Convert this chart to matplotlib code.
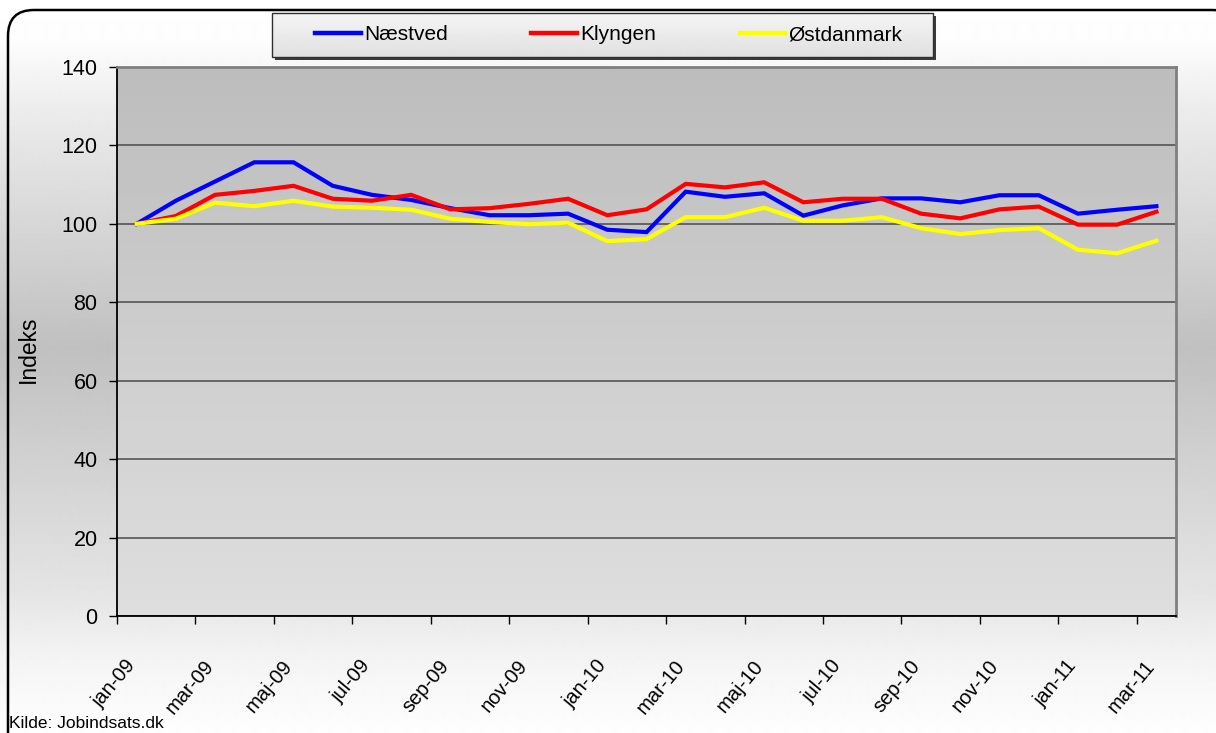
import numpy as np
import matplotlib.pyplot as plt
from matplotlib.patches import FancyBboxPatch, Rectangle
from matplotlib.lines import Line2D
from matplotlib.transforms import ScaledTranslation

# monthly index values, jan-09 = 100
months = ["jan-09", "feb-09", "mar-09", "apr-09", "maj-09", "jun-09", "jul-09",
          "aug-09", "sep-09", "okt-09", "nov-09", "dec-09", "jan-10", "feb-10",
          "mar-10", "apr-10", "maj-10", "jun-10", "jul-10", "aug-10", "sep-10",
          "okt-10", "nov-10", "dec-10", "jan-11", "feb-11", "mar-11"]
naestved = [100, 105.9, 110.8, 115.7, 115.7, 109.7, 107.4, 106.1, 104.0, 102.2,
            102.2, 102.6, 98.5, 97.9, 108.2, 106.9, 107.8, 102.1, 104.7, 106.5,
            106.5, 105.5, 107.3, 107.3, 102.6, 103.6, 104.5]
klyngen = [100, 102.0, 107.4, 108.4, 109.7, 106.4, 105.9, 107.4, 103.7, 104.0,
           105.1, 106.4, 102.2, 103.7, 110.2, 109.3, 110.6, 105.5, 106.4, 106.4,
           102.6, 101.4, 103.7, 104.4, 99.8, 99.8, 103.1]
ostdanmark = [100, 101.3, 105.4, 104.5, 105.9, 104.4, 104.1, 103.6, 101.3, 100.5,
              99.9, 100.3, 95.6, 96.1, 101.7, 101.7, 104.1, 100.8, 100.8, 101.7,
              98.9, 97.4, 98.4, 98.9, 93.4, 92.5, 95.7]
series_names = ["Næstved", "Klyngen", "Østdanmark"]
series_colors = ["#0000ff", "#ff0000", "#ffff00"]
y_ticks = [0, 20, 40, 60, 80, 100, 120, 140]

W, H = 1216, 733
plt.rcParams["font.family"] = ["Liberation Sans", "DejaVu Sans"]

fig = plt.figure(figsize=(W / 100, H / 100), dpi=100)

# background layer in pixel coords
bg = fig.add_axes([0, 0, 1, 1], zorder=-10)
ys = np.arange(H)
shade = np.interp(ys, [0, 40, 110, 347, 590, 660, 733], [255, 253, 236, 192, 228, 244, 254]) / 255
bg.imshow(np.repeat(shade[:, None], 2, axis=1), cmap="gray", vmin=0, vmax=1,
          extent=[0, W, H, 0], aspect="auto", interpolation="bilinear", zorder=0)
bg.add_patch(FancyBboxPatch((8, 10), 1230, 760, boxstyle="round,pad=0,rounding_size=26",
                            fc="none", ec="black", lw=1.8, zorder=1))

# legend box with shadow
lx0, ly0, lw_, lh_ = 272, 13, 661, 44
bg.add_patch(Rectangle((lx0 + 2.5, ly0 + 2.5), lw_, lh_, fc="#3a3a3a", ec="none", zorder=2))
lgrad = np.linspace(0.96, 0.88, 50)[:, None]
bg.imshow(np.repeat(lgrad, 2, axis=1), cmap="gray", vmin=0, vmax=1,
          extent=[lx0, lx0 + lw_, ly0 + lh_, ly0], aspect="auto",
          interpolation="bilinear", zorder=3)
bg.add_patch(Rectangle((lx0, ly0), lw_, lh_, fc="none", ec="#303030", lw=1, zorder=4))
bg.set_xlim(0, W)
bg.set_ylim(H, 0)
bg.axis("off")

# main plot area
ax = fig.add_axes([117 / W, 1 - 616 / H, (1176 - 117) / W, (616 - 67) / H])
x = np.arange(len(months))
pgrad = np.linspace(0.74, 0.87, 100)[:, None]
ax.imshow(np.repeat(pgrad, 2, axis=1), cmap="gray", vmin=0, vmax=1,
          extent=[-0.5, len(months) - 0.5, 0, 140], aspect="auto",
          interpolation="bilinear", zorder=0)

handles = []
for vals, name, col in zip([naestved, klyngen, ostdanmark], series_names, series_colors):
    ax.plot(x, vals, color=col, lw=3, solid_joinstyle="miter", zorder=3)
    handles.append(Line2D([], [], color=col, lw=3.2))

ax.set_xlim(-0.5, len(months) - 0.5)
ax.set_ylim(0, 140)
ax.set_axisbelow(True)
ax.yaxis.grid(True, color="#4a4a4a", lw=1.1)
ax.set_yticks(y_ticks)
ax.tick_params(axis="y", labelsize=15.5, length=6, width=1, pad=8, color="black")

ax.set_xticks(x[::2])
ax.set_xticklabels(months[::2])
ax.set_xticks(np.arange(-0.5, len(months) - 1, 2), minor=True)
ax.tick_params(axis="x", which="major", length=0, pad=29)
ax.tick_params(axis="x", which="minor", length=6, width=1, color="black")
offset = ScaledTranslation(-12 / 100, 0, fig.dpi_scale_trans)
for lab in ax.get_xticklabels():
    lab.set_rotation(50)
    lab.set_rotation_mode("anchor")
    lab.set_ha("right")
    lab.set_va("top")
    lab.set_fontsize(14.5)
    lab.set_transform(lab.get_transform() + offset)

for side in ["top", "right"]:
    ax.spines[side].set_color("#7f7f7f")
    ax.spines[side].set_linewidth(2)
for side in ["left", "bottom"]:
    ax.spines[side].set_color("black")
    ax.spines[side].set_linewidth(1.3)

fig.legend(handles, series_names, loc="center", bbox_to_anchor=(609 / W, 1 - 35 / H),
           ncol=3, frameon=False, fontsize=15, handlelength=2.2,
           handletextpad=0.15, columnspacing=4.0)

fig.text(28 / W, 1 - 349 / H, "Indeks", rotation=90, ha="center", va="center", fontsize=16.5)
fig.text(9 / W, 1 - 723 / H, "Kilde: Jobindsats.dk", ha="left", va="center", fontsize=12.5)

fig.savefig("out.png", dpi=100)
